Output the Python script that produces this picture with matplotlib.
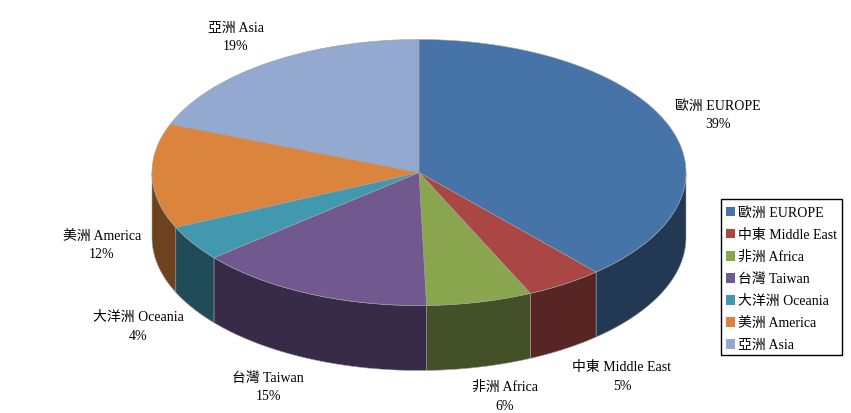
import numpy as np
import matplotlib
matplotlib.use("Agg")
import matplotlib.pyplot as plt
from matplotlib.patches import Patch, Rectangle

categories = ["歐洲 EUROPE", "中東 Middle East", "非洲 Africa", "台灣 Taiwan",
              "大洋洲 Oceania", "美洲 America", "亞洲 Asia"]
shares = [38.5, 4.7, 6.4, 14.4, 4.3, 12.7, 19.1]
pct_labels = ["39%", "5%", "6%", "15%", "4%", "12%", "19%"]

top_colors = ["#4674A8", "#AA4643", "#89A54E", "#71588F", "#4198AF", "#DB843D", "#93A9CF"]
side_colors = ["#223853", "#572523", "#445027", "#382B47", "#204C57", "#6D421E", "#47536A"]
label_xy = [(718, 106), (622, 367), (505, 387), (268, 378), (138, 317), (102, 236), (236, 28)]

CX, CY, RX, RY, DEPTH = 419, 172.5, 267, 133, 65
FONT = ["Liberation Serif", "Noto Sans CJK TC", "DejaVu Sans"]
EDGE = "#A0A0A0"
FS = 10

fig = plt.figure(figsize=(8.51, 4.13), dpi=100)
ax = fig.add_axes([0, 0, 1, 1])
ax.set_xlim(0, 851)
ax.set_ylim(413, 0)
ax.axis("off")

fracs = np.array(shares) / np.sum(shares)
# Parameter angle on the ellipse, starting at top and running clockwise on screen
bounds = -90 + 360 * np.concatenate([[0], np.cumsum(fracs)])


def rim(a, b, n=120):
    t = np.radians(np.linspace(a, b, n))
    return CX + RX * np.cos(t), CY + RY * np.sin(t)


# Outer wall: only the front half of the ellipse (0..180 deg) is visible
for i in range(len(shares)):
    a, b = max(bounds[i], 0), min(bounds[i + 1], 180)
    if b <= a:
        continue
    x, y = rim(a, b)
    ax.fill(np.r_[x, x[::-1]], np.r_[y, y[::-1] + DEPTH], color=side_colors[i],
            ec=EDGE, lw=0.4, zorder=2)

# Top face
for i in range(len(shares)):
    x, y = rim(bounds[i], bounds[i + 1])
    ax.fill(np.r_[CX, x], np.r_[CY, y], color=top_colors[i], ec=EDGE, lw=0.4, zorder=3)

for cat, pct, (lx, ly) in zip(categories, pct_labels, label_xy):
    ax.text(lx, ly, cat, ha="center", va="center", fontsize=FS, family=FONT, color="black")
    ax.text(lx, ly + 19, pct, ha="center", va="center", fontsize=FS, family=FONT, color="black")

# Legend frame is drawn separately because the text sits low inside the box
ax.add_patch(Rectangle((721, 199), 121, 156, fc="white", ec="black", lw=1.0, zorder=4))
handles = [Patch(facecolor=c, edgecolor="none", label=l) for c, l in zip(top_colors, categories)]
ax.legend(handles=handles, loc="upper left", bbox_to_anchor=(721 / 851, 1 - 201.5 / 413),
          bbox_transform=fig.transFigure, borderaxespad=0, frameon=False,
          prop={"family": FONT, "size": FS},
          handlelength=0.68, handleheight=0.68, handletextpad=0.2,
          labelspacing=0.65, borderpad=0.36)

fig.savefig("out.png", dpi=100)
